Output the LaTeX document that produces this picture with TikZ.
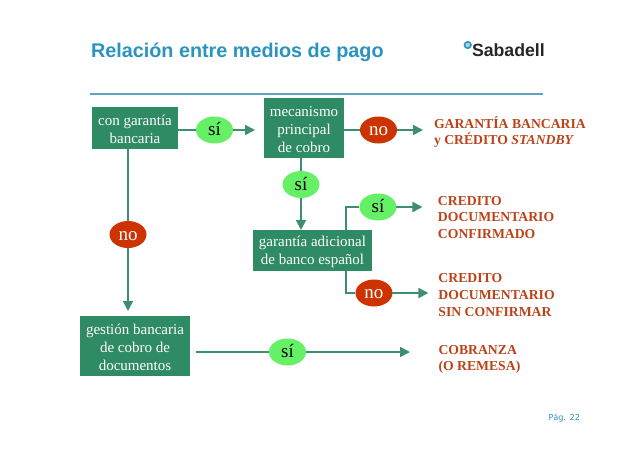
\documentclass[tikz,border=0pt]{standalone}
\usepackage{fontspec}
\setmainfont{Liberation Serif}
\newfontfamily\headfont{Liberation Sans}
\newfontfamily\pagefont{DejaVu Sans}
\usepackage{tikz}
\usetikzlibrary{positioning}
\usetikzlibrary{arrows.meta}
\usetikzlibrary{shapes.geometric}
\definecolor{boxgreen}{HTML}{2F8B63}
\definecolor{linegreen}{HTML}{3D8F6E}
\definecolor{yesgreen}{HTML}{66F066}
\definecolor{nored}{HTML}{CC3300}
\definecolor{outred}{HTML}{BC4218}
\definecolor{headblue}{HTML}{2A93BE}
\definecolor{ruleblue}{HTML}{5CA6C2}
\newcommand{\firstrow}{\rule{0pt}{13pt}}
\tikzset{
  x=1pt,y=-1pt,
  every node/.style={inner sep=0pt,outer sep=0pt},
  stepbox/.style={rectangle,fill=boxgreen,text=white,align=center,font=\fontsize{15}{18}\selectfont},
  yes/.style={ellipse,fill=yesgreen,minimum width=37pt,minimum height=27pt,text height=11pt,text depth=0pt,font=\fontsize{19}{19}\selectfont},
  nope/.style={ellipse,fill=nored,text=white,minimum width=37pt,minimum height=27pt,text height=11pt,text depth=0pt,font=\fontsize{19}{19}\selectfont},
  outcome/.style={text=outred,align=left,font=\fontsize{13.7}{16.6}\selectfont\bfseries},
  link/.style={draw=linegreen,line width=1.8pt},
  linkto/.style={link,-{Triangle[length=10pt,width=10pt,fill=linegreen]}}
}
\begin{document}
\begin{tikzpicture}
\useasboundingbox (0,0) rectangle (638,451);
\node[anchor=west,text=headblue,font=\fontsize{19.8}{22}\selectfont\headfont\bfseries](title) at (91,52){Relación entre medios de pago};
\coordinate (rulea) at (90,94);
\coordinate (ruleb) at (543,94);
\draw[ruleblue,line width=1.2pt] (rulea) -- (ruleb);
\node[anchor=west,text=black!85,font=\fontsize{17.7}{20}\selectfont\headfont\bfseries](logo) at (472,50){Sabadell};
\node[circle,draw=headblue,fill=ruleblue!50,line width=1.6pt,minimum size=6.5pt,left = 1pt of logo,yshift=5pt](logodot){};

\node[stepbox,minimum width=86pt,minimum height=42pt](conbanc) at (135,128){\firstrow con garantía\\bancaria};
\node[yes,right = 18pt of conbanc,yshift=-2pt](sia){sí};
\coordinate[right = 22pt of sia](tipa);
\node[stepbox,minimum width=80pt,minimum height=60pt,right = 9pt of tipa,yshift=2pt](mecanismo){\firstrow mecanismo\\principal\\de cobro};
\node[nope,right = 16pt of mecanismo,yshift=-2pt](nob){no};
\coordinate[right = 26pt of nob](tipb);
\node[outcome,right = 11pt of tipb,yshift=-2pt](garantia){GARANTÍA BANCARIA\\y CRÉDITO \textit{STANDBY}};

\node[yes,below = 13pt of mecanismo,xshift=-3pt](sic){sí};
\node[stepbox,minimum width=119pt,minimum height=41pt,below = 32pt of sic,xshift=11.5pt](adicional){\firstrow garantía adicional\\de banco español};
\coordinate[right = 33.5pt of adicional.north](adtop);
\coordinate[right = 33.5pt of adicional.south](adbot);
\node[yes,above right = 13.45pt and -7.1pt of adicional](sid){sí};
\coordinate[right = 26pt of sid](tipd);
\node[outcome,right = 15.5pt of tipd,yshift=-10.5pt](creditoa){CREDITO\\DOCUMENTARIO\\CONFIRMADO};
\node[nope,below right = 12.45pt and -11.1pt of adicional](noe){no};
\coordinate[right = 36pt of noe](tipe);
\node[outcome,right = 10pt of tipe,yshift=-2pt](creditob){CREDITO\\DOCUMENTARIO\\SIN CONFIRMAR};

\node[nope,below = 72pt of conbanc,xshift=-7pt](nof){no};
\coordinate[below = 63pt of nof](tipf);
\node[stepbox,minimum width=110pt,minimum height=60pt,below = 5pt of tipf,xshift=7pt](gestion){\firstrow gestión bancaria\\de cobro de\\documentos};
\coordinate[right = 6pt of gestion,yshift=-6pt](startg);
\node[yes,right = 79pt of gestion,yshift=-6pt](sig){sí};
\coordinate[right = 104pt of sig](tipg);
\node[outcome,right = 28.5pt of tipg,yshift=-7.5pt](cobranza){COBRANZA\\(O REMESA)};

\node[anchor=east,text=headblue,font=\fontsize{8.2}{10}\selectfont\pagefont](pag) at (580,418){Pág. 22};

\draw[link] (conbanc.east |- sia) -- (sia);
\draw[linkto] (sia) -- (tipa);
\draw[link] (mecanismo.east |- nob) -- (nob);
\draw[linkto] (nob) -- (tipb);
\draw[link] (sic |- mecanismo.south) -- (sic);
\draw[linkto] (sic) -- (sic |- adicional.north);
\draw[link] (nof |- conbanc.south) -- (nof);
\draw[linkto] (nof) -- (tipf);
\draw[link] (adtop) |- (sid);
\draw[linkto] (sid) -- (tipd);
\draw[link] (adbot) |- (noe);
\draw[linkto] (noe) -- (tipe);
\draw[link] (startg) -- (sig);
\draw[linkto] (sig) -- (tipg);
\end{tikzpicture}
\end{document}
